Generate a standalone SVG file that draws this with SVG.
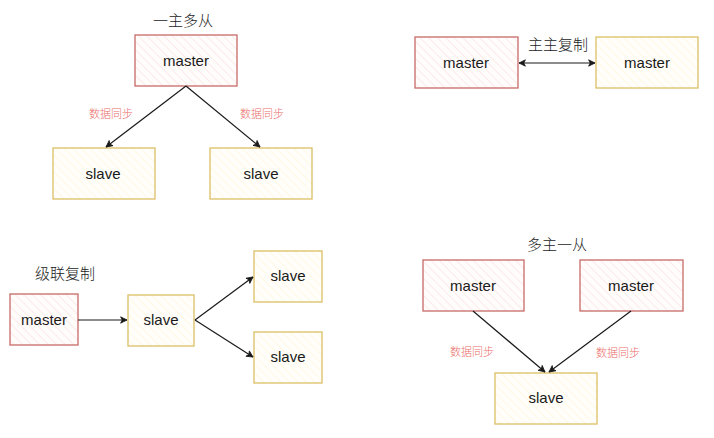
<svg xmlns="http://www.w3.org/2000/svg" width="714" height="438" viewBox="0 0 714 438">
<defs>
<pattern id="hr" patternUnits="userSpaceOnUse" width="6" height="6" patternTransform="rotate(-45)">
<rect width="6" height="6" fill="#fffcfc"/>
<line x1="0" y1="0" x2="0" y2="6" stroke="#fae0df" stroke-width="1.2"/>
</pattern>
<pattern id="hy" patternUnits="userSpaceOnUse" width="6" height="6" patternTransform="rotate(-45)">
<rect width="6" height="6" fill="#fffefa"/>
<line x1="0" y1="0" x2="0" y2="6" stroke="#fff4d6" stroke-width="1.2"/>
</pattern>
<marker id="ah" viewBox="0 0 10 10" refX="9" refY="5" markerWidth="8" markerHeight="8" orient="auto-start-reverse" markerUnits="userSpaceOnUse">
<path d="M1,1 L9,5 L1,9 L3,5 Z" fill="#1a1a1a" stroke="#1a1a1a" stroke-width="1" stroke-linejoin="round"/>
</marker>
<style>
.red{fill:url(#hr);stroke:#c66a67;stroke-width:1.3}
.yel{fill:url(#hy);stroke:#dcbf66;stroke-width:1.3}
.lbl{font-family:"Liberation Sans","Noto Sans",sans-serif;font-size:15px;fill:#1a1a1a;text-anchor:middle;dominant-baseline:central}
.ttl{font-family:"Noto Sans CJK SC",sans-serif;font-size:15px;font-weight:300;fill:#1a1a1a;text-anchor:middle;dominant-baseline:central}
.sync{font-family:"Noto Sans CJK SC",sans-serif;font-size:11px;font-weight:300;fill:#ea6b66;text-anchor:middle;dominant-baseline:central}
.c{fill:none;stroke:#1a1a1a;stroke-width:1.2;marker-end:url(#ah)}
</style>
</defs>
<rect width="714" height="438" fill="#ffffff"/>

<g id="titles">
<text class="ttl" x="183" y="19">一主多从</text>
<text class="ttl" x="558" y="43">主主复制</text>
<text class="ttl" x="65" y="272">级联复制</text>
<text class="ttl" x="557" y="243">多主一从</text>
</g>

<g id="n1-master"><rect class="red" x="135" y="35" width="102" height="51"/><text class="lbl" x="186" y="60">master</text></g>
<g id="n1-slave1"><rect class="yel" x="53" y="148" width="102" height="51"/><text class="lbl" x="103" y="173">slave</text></g>
<g id="n1-slave2"><rect class="yel" x="210" y="148" width="102" height="51"/><text class="lbl" x="261" y="173">slave</text></g>

<g id="n2-master1"><rect class="red" x="415" y="37" width="103" height="51"/><text class="lbl" x="466" y="62">master</text></g>
<g id="n2-master2"><rect class="yel" x="596" y="37" width="102" height="51"/><text class="lbl" x="647" y="62">master</text></g>

<g id="n3-master"><rect class="red" x="10" y="294" width="68" height="51"/><text class="lbl" x="44" y="319">master</text></g>
<g id="n3-slave"><rect class="yel" x="128" y="295" width="66" height="51"/><text class="lbl" x="161" y="319">slave</text></g>
<g id="n3-slave2"><rect class="yel" x="254" y="251" width="68" height="51"/><text class="lbl" x="288" y="275">slave</text></g>
<g id="n3-slave3"><rect class="yel" x="254" y="332" width="68" height="51"/><text class="lbl" x="288" y="356">slave</text></g>

<g id="n4-master1"><rect class="red" x="423" y="260" width="101" height="51"/><text class="lbl" x="473" y="285">master</text></g>
<g id="n4-master2"><rect class="red" x="580" y="260" width="103" height="51"/><text class="lbl" x="631" y="285">master</text></g>
<g id="n4-slave"><rect class="yel" x="495" y="373" width="102" height="51"/><text class="lbl" x="546" y="397">slave</text></g>

<g id="connectors">
<path class="c" d="M186,86 L106,147"/>
<path class="c" d="M186,86 L260,147"/>
<path class="c" d="M519,63 L595,63" marker-start="url(#ah)"/>
<path class="c" d="M78,320 L127,320"/>
<path class="c" d="M195,320 L253,277"/>
<path class="c" d="M195,320 L253,357"/>
<path class="c" d="M473,311 L545,372"/>
<path class="c" d="M631,311 L549,372"/>
</g>

<g id="labels">
<text class="sync" x="111" y="113">数据同步</text>
<text class="sync" x="262" y="113">数据同步</text>
<text class="sync" x="472" y="351">数据同步</text>
<text class="sync" x="618" y="352">数据同步</text>
</g>
</svg>
